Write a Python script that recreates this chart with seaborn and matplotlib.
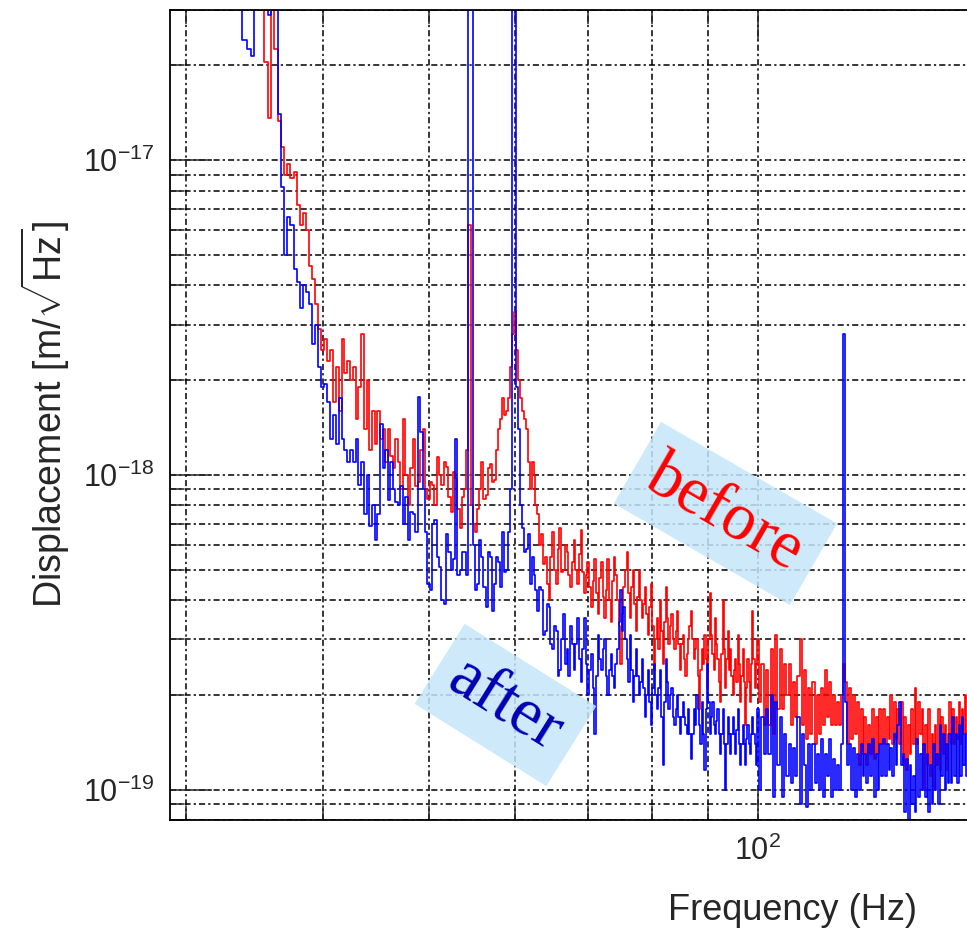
import numpy as np
import matplotlib
matplotlib.use("Agg")
import matplotlib.pyplot as plt
from matplotlib.ticker import NullFormatter
import seaborn as sns

# === FFT bin centres (Hz) ===
freq = [
    29.0, 29.5, 30.0, 30.5, 31.0, 31.5, 32.0, 32.5, 33.0, 33.5,
    34.0, 34.25, 34.5, 34.75, 35.0, 35.25, 35.5, 35.75, 36.0, 36.25, 36.5, 36.75, 37.0, 37.25, 37.5, 37.75,
    38.0, 38.25, 38.5, 38.75, 39.0, 39.25, 39.5, 39.75, 40.0, 40.25, 40.5, 40.75, 41.0, 41.25, 41.5, 41.75,
    42.0, 42.25, 42.5, 42.75, 43.0, 43.25, 43.5, 43.75, 44.0, 44.25, 44.5, 44.75, 45.0, 45.25, 45.5, 45.75,
    46.0, 46.25, 46.5, 46.75, 47.0, 47.25, 47.5, 47.75, 48.0, 48.25, 48.5, 48.75, 49.0, 49.25, 49.5, 49.75,
    50.0, 50.25, 50.5, 50.75, 51.0, 51.25, 51.5, 51.75, 52.0, 52.25, 52.5, 52.75, 53.0, 53.25, 53.5, 53.75,
    54.0, 54.25, 54.5, 54.75, 55.0, 55.25, 55.5, 55.75, 56.0, 56.25, 56.5, 56.75, 57.0, 57.25, 57.5, 57.75,
    58.0, 58.25, 58.5, 58.75, 59.0, 59.25, 59.5, 59.75, 60.0, 60.25, 60.5, 60.75, 61.0, 61.25, 61.5, 61.75,
    62.0, 62.25, 62.5, 62.75, 63.0, 63.25, 63.5, 63.75, 64.0, 64.25, 64.5, 64.75, 65.0, 65.25, 65.5, 65.75,
    66.0, 66.25, 66.5, 66.75, 67.0, 67.25, 67.5, 67.75, 68.0, 68.25, 68.5, 68.75, 69.0, 69.25, 69.5, 69.75,
    70.0, 70.25, 70.5, 70.75, 71.0, 71.25, 71.5, 71.75, 72.0, 72.25, 72.5, 72.75, 73.0, 73.25, 73.5, 73.75,
    74.0, 74.25, 74.5, 74.75, 75.0, 75.25, 75.5, 75.75, 76.0, 76.25, 76.5, 76.75, 77.0, 77.25, 77.5, 77.75,
    78.0, 78.25, 78.5, 78.75, 79.0, 79.25, 79.5, 79.75, 80.0, 80.25, 80.5, 80.75, 81.0, 81.25, 81.5, 81.75,
    82.0, 82.25, 82.5, 82.75, 83.0, 83.25, 83.5, 83.75, 84.0, 84.25, 84.5, 84.75, 85.0, 85.25, 85.5, 85.75,
    86.0, 86.25, 86.5, 86.75, 87.0, 87.25, 87.5, 87.75, 88.0, 88.25, 88.5, 88.75, 89.0, 89.25, 89.5, 89.75,
    90.0, 90.25, 90.5, 90.75, 91.0, 91.25, 91.5, 91.75, 92.0, 92.25, 92.5, 92.75, 93.0, 93.25, 93.5, 93.75,
    94.0, 94.25, 94.5, 94.75, 95.0, 95.25, 95.5, 95.75, 96.0, 96.25, 96.5, 96.75, 97.0, 97.25, 97.5, 97.75,
    98.0, 98.25, 98.5, 98.75, 99.0, 99.25, 99.5, 99.75,
    100.0,
    100.5, 101.0, 101.5, 102.0, 102.5, 103.0, 103.5, 104.0, 104.5, 105.0,
    105.5, 106.0, 106.5, 107.0, 107.5, 108.0, 108.5, 109.0, 109.5, 110.0,
    110.5, 111.0, 111.5, 112.0, 112.5, 113.0, 113.5, 114.0, 114.5, 115.0,
    115.5, 116.0, 116.5, 117.0, 117.5, 118.0, 118.5, 119.0, 119.5, 120.0,
    120.5, 121.0, 121.5, 122.0, 122.5, 123.0, 123.5, 124.0, 124.5, 125.0,
    125.5, 126.0, 126.5, 127.0, 127.5, 128.0, 128.5, 129.0, 129.5, 130.0,
    130.5, 131.0, 131.5, 132.0, 132.5, 133.0, 133.5, 134.0, 134.5, 135.0,
    135.5, 136.0, 136.5, 137.0, 137.5, 138.0, 138.5, 139.0, 139.5, 140.0,
    140.5, 141.0, 141.5, 142.0, 142.5, 143.0, 143.5, 144.0, 144.5, 145.0,
    145.5, 146.0, 146.5, 147.0, 147.5, 148.0, 148.5, 149.0, 149.5, 150.0,
    150.5, 151.0, 151.5, 152.0, 152.5, 153.0, 153.5, 154.0, 154.5, 155.0,
    155.5, 156.0,
]

# === Displacement spectra, in units of 1e-19 m/rtHz ===
before = [
    900, 850, 800, 760, 720, 680, 650, 600, 560, 520,
    450, 430, 420, 400, 390, 380, 205, 136, 340, 225, 133, 110, 90, 97, 88, 92,
    72, 62, 68, 60, 46, 42, 35, 29, 25, 27, 23, 25, 17, 22, 16, 27,
    21, 23, 20, 22, 15, 19, 28, 14, 20, 12, 16, 12.5, 16, 13, 14, 11,
    14, 11.5, 10.5, 13, 11, 9, 15, 10, 8.0, 10.5, 13, 9.2, 9.5, 12, 14, 9,
    8.4, 9.5, 9.3, 8, 11.4, 10, 9.3, 11, 10.6, 8.5, 7.6, 10.2, 9.8, 7.8, 6.8, 8.5,
    9.0, 12, 62, 8, 7.0, 6.6, 7.8, 9, 11, 8.4, 8.6, 10.5, 10.8, 9.5, 9.6, 12,
    14, 15, 17.5, 15.5, 16, 17.5, 22, 28, 33, 25, 20, 17.5, 16, 15, 14, 11,
    9, 11, 10, 8, 7.5, 6, 6.5, 5.2, 5.5, 4.5, 4.0, 5.5, 6.6, 5, 4.5, 5.8,
    6.8, 4.9, 5.0, 6.0, 5.7, 4.8, 4.4, 5.3, 6.2, 5.0, 4.5, 5.6, 6.7, 4.9, 4.2, 4.8,
    5.3, 4.4, 3.8, 4.6, 5.4, 4.2, 3.6, 4.7, 5.3, 4.1, 3.5, 4.3, 5.4, 4.0, 3.4, 4.6,
    5.5, 4.8, 4.0, 3.3, 2.5, 3.6, 4.4, 5.0, 5.7, 4.2, 3.5, 4.4, 5.0, 3.9, 3.2, 4.1,
    5.0, 4.0, 3.5, 3.9, 4.4, 3.6, 3.1, 3.8, 4.5, 3.3, 2.4, 3.0, 3.5, 2.8, 4.0, 3.2,
    2.5, 3.4, 4.4, 3.5, 2.9, 3.3, 3.6, 3.0, 2.8, 3.2, 3.7, 2.9, 2.4, 2.9, 3.1, 2.6,
    2.3, 2.7, 3.0, 3.3, 3.7, 3.0, 2.6, 2.8, 3.0, 2.3, 1.8, 2.4, 2.8, 2.5, 3.1, 2.6,
    2.1, 3.0, 4.2, 3.1, 2.7, 2.4, 3.5, 2.9, 2.6, 2.2, 1.9, 2.7, 4.0, 2.8, 2.1, 2.6,
    3.2, 2.4, 2.8, 2.3, 2.0, 2.4, 2.6, 2.2, 3.1, 2.5, 1.9, 2.3, 2.8, 2.2, 1.6, 2.1,
    2.6, 2.2, 1.9, 2.5, 3.7, 2.6, 2.1, 2.5,
    3.0,
    1.9, 2.5, 1.6, 2.4, 1.6, 2.8, 1.5, 3.1, 1.8, 2.8,
    1.8, 2.5, 2.0, 2.5, 1.6, 2.2, 1.7, 2.3, 3.0, 1.6,
    2.4, 1.45, 2.1, 1.5, 2.2, 1.4, 2.0, 1.5, 2.1, 1.6,
    2.4, 1.7, 2.2, 1.6, 2.0, 1.6, 1.9, 1.6, 2.0, 2.5,
    2.2, 1.4, 2.1, 1.45, 2.0, 1.5, 1.9, 1.2, 1.8, 1.3,
    1.7, 1.2, 1.6, 1.3, 1.8, 1.25, 1.7, 1.3, 1.8, 1.4,
    1.8, 1.4, 1.7, 1.45, 2.0, 1.4, 1.9, 1.45, 1.8, 1.4,
    1.9, 1.2, 1.7, 1.15, 1.6, 1.3, 1.8, 1.4, 2.1, 1.4,
    1.9, 1.5, 1.8, 1.0, 1.6, 1.2, 1.8, 1.1, 1.5, 1.0,
    1.6, 1.2, 1.8, 1.15, 1.7, 1.3, 1.6, 1.15, 1.5, 1.9,
    1.4, 1.8, 1.4, 1.7, 1.45, 1.9, 1.4, 1.8, 1.5, 2.0,
    1.5, 1.8,
]

after = [
    800, 760, 700, 520, 310, 600, 560, 520, 480, 420,
    240, 225, 215, 330, 400, 380, 350, 290, 310, 330, 140, 82, 50, 66, 62, 45,
    41, 34, 40, 38, 35, 26, 30, 22, 19, 19.5, 17, 13, 15.5, 12.5, 17.5, 13,
    12, 11, 12, 11, 13, 9.3, 11, 7.5, 10, 6.9, 8.0, 6.2, 7.5, 14.5, 10.5, 12,
    8.3, 11, 9, 8.2, 8, 9.2, 7, 8.5, 6.2, 7.6, 7.5, 6.6, 17.7, 13.7, 9, 6.6,
    4.5, 4.3, 7, 7.2, 5.5, 5.1, 4.0, 3.9, 6.5, 5.7, 5, 5.4, 13, 4.8, 5, 5.7,
    5.7, 4.8, 3000, 3000, 6, 4.3, 4.5, 6.2, 5.5, 4.4, 3.8, 5.7, 5.5, 3.7, 4.5, 5.5,
    5.3, 4.4, 6.6, 4.9, 5, 6.6, 9, 3000, 3000, 19, 14, 8, 6.8, 5.7, 5.8, 6.5,
    4.5, 5.5, 4.8, 4.3, 3.7, 4.4, 4.3, 3.1, 3.2, 3.9, 3.8, 2.9, 2.8, 3.3, 3.2, 2.3,
    2.4, 3.0, 3.6, 2.5, 2.8, 2.3, 3.3, 2.9, 2.4, 2.9, 3.5, 2.6, 2.2, 2.8, 3.5, 2.5,
    2.0, 2.4, 2.7, 2.1, 1.5, 2.3, 3.1, 2.6, 2.4, 2.8, 3.0, 2.3, 2.0, 2.4, 2.7, 2.3,
    2.1, 2.5, 2.8, 3.4, 4.3, 3.2, 3.8, 3.0, 2.6, 2.2, 3.1, 2.4, 1.9, 2.3, 2.8, 2.3,
    2.0, 2.2, 2.6, 2.1, 1.7, 2.0, 2.4, 1.9, 1.6, 2.1, 2.5, 2.0, 1.8, 2.1, 2.4, 1.7,
    1.2, 1.9, 2.6, 2.2, 1.8, 2.0, 2.1, 1.7, 1.6, 1.8, 2.0, 1.7, 1.5, 1.7, 1.9, 1.7,
    1.6, 1.5, 1.8, 1.5, 1.25, 1.5, 1.8, 1.6, 2.0, 1.8, 1.6, 1.4, 1.9, 1.5, 1.15, 1.8,
    2.5, 1.9, 1.5, 1.7, 1.9, 1.6, 1.5, 1.65, 1.8, 1.5, 1.3, 1.5, 1.8, 1.4, 1.0, 1.4,
    1.7, 1.5, 1.3, 1.5, 1.7, 1.5, 1.3, 1.55, 1.8, 1.4, 1.2, 1.4, 1.6, 1.4, 1.2, 1.45,
    1.6, 1.4, 1.3, 1.5, 1.7, 1.5, 1.4, 1.2,
    1.8,
    1.0, 1.7, 1.3, 1.8, 1.3, 2.0, 0.95, 1.9, 1.2, 1.7,
    0.95, 1.5, 1.1, 1.4, 1.05, 1.35, 1.1, 1.7, 0.9, 1.5,
    1.2, 0.88, 1.4, 1.0, 1.4, 1.05, 1.3, 1.0, 1.45, 0.95,
    1.3, 1.1, 1.45, 0.95, 1.25, 1.0, 1.2, 1.0, 1.4, 28,
    1.9, 1.2, 1.4, 1.0, 1.35, 0.95, 1.3, 1.0, 1.4, 1.1,
    1.3, 1.05, 1.4, 1.1, 1.45, 0.95, 1.3, 1.0, 1.4, 1.1,
    1.45, 1.1, 1.4, 1.15, 1.35, 1.1, 1.5, 1.2, 1.6, 1.9,
    1.2, 1.3, 0.85, 1.25, 0.8, 1.2, 0.9, 1.1, 0.85, 1.45,
    0.95, 1.3, 1.0, 1.4, 0.95, 1.3, 0.85, 1.2, 0.9, 1.4,
    1.0, 1.3, 0.9, 1.6, 1.1, 1.5, 1.0, 1.4, 1.05, 1.5,
    1.05, 1.7, 1.1, 1.5, 1.05, 1.6, 1.1, 1.7, 1.2, 1.5,
    1.1, 1.6,
]

# axis ticks
yticks = [1e-19, 1e-18, 1e-17]
xticks = [100]

unit = 1e-19
before_asd = np.array(before) * unit
after_asd = np.array(after) * unit

sns.set_style("white")
plt.rcParams["font.family"] = ["Liberation Sans", "DejaVu Sans"]
plt.rcParams["mathtext.fontset"] = "custom"
plt.rcParams["mathtext.rm"] = "Liberation Sans"
plt.rcParams["mathtext.it"] = "Liberation Sans:italic"
plt.rcParams["mathtext.bf"] = "Liberation Sans:bold"
plt.rcParams["axes.unicode_minus"] = False

fig = plt.figure(figsize=(9.67, 9.3), dpi=100)
# axes run past the right edge of the picture (the original was cropped)
ax = fig.add_axes([170 / 967, 110 / 930, 1245.7 / 967, 810 / 930])
ax.set_xscale("log")
ax.set_yscale("log")

sns.lineplot(x=freq, y=before_asd, color="#ff0000", lw=1.2,
             drawstyle="steps-mid", estimator=None, ax=ax)
sns.lineplot(x=freq, y=after_asd, color="#0000ff", lw=1.2,
             drawstyle="steps-mid", estimator=None, ax=ax)

ax.set_xlim(29, 400)
ax.set_ylim(8e-20, 3e-17)
ax.set_yticks(yticks)
ax.set_xticks(xticks)

ax.xaxis.set_minor_formatter(NullFormatter())
ax.yaxis.set_minor_formatter(NullFormatter())
ax.tick_params(axis="y", which="major", length=30, width=1.1, direction="in",
               left=True, right=True, labelsize=22, pad=11)
ax.tick_params(axis="x", which="major", length=22, width=1.1, direction="in",
               bottom=True, top=True, labelsize=22, pad=11)
ax.tick_params(which="minor", length=10, width=1.1, direction="in",
               left=True, right=True, bottom=True, top=True)

for side in ["left", "bottom", "top", "right"]:
    ax.spines[side].set_color("black")
    ax.spines[side].set_linewidth(1.3)

ax.grid(True, which="both", color="black", linestyle=(0, (4, 2, 1.5, 2)),
        linewidth=1.1)

ax.set_ylabel(r"Displacement [m/$\sqrt{\mathrm{Hz}}$]", fontsize=27)
ax.yaxis.set_label_coords(-0.0787, 0.5)
ax.set_xlabel("Frequency (Hz)", fontsize=26)
ax.xaxis.set_label_coords(0.5, -0.0901)

box = dict(boxstyle="square,pad=0.25", fc="#c6e6f9", ec="none", alpha=0.85)
ax.text(0.4459, 0.3784, "before", transform=ax.transAxes, rotation=-30,
        rotation_mode="anchor", ha="center", va="center", fontsize=48,
        family="Liberation Serif", color="#ff0000", bbox=box, zorder=6)
ax.text(0.2693, 0.1420, "after", transform=ax.transAxes, rotation=-32,
        rotation_mode="anchor", ha="center", va="center", fontsize=48,
        family="Liberation Serif", color="#0000b4", bbox=box, zorder=6)

fig.savefig("out.png", dpi=100)
plt.close(fig)
